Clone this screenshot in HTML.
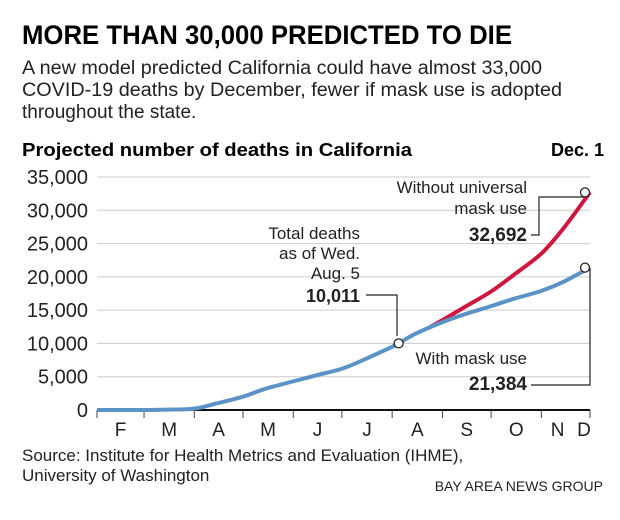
<!DOCTYPE html>
<html><head><meta charset="utf-8"><style>
body{margin:0;background:#fff}
svg{display:block;font-family:"Liberation Sans",sans-serif}
</style></head><body>
<svg width="620" height="520" viewBox="0 0 620 520" id="chart">
<text x="22" y="44" font-size="27" font-weight="bold" textLength="490" lengthAdjust="spacingAndGlyphs">MORE THAN 30,000 PREDICTED TO DIE</text>
<g font-size="19" fill="#222">
<text x="22" y="74" textLength="520" lengthAdjust="spacingAndGlyphs">A new model predicted California could have almost 33,000</text>
<text x="22" y="96" textLength="540" lengthAdjust="spacingAndGlyphs">COVID-19 deaths by December, fewer if mask use is adopted</text>
<text x="22" y="118">throughout the state.</text>
</g>
<text x="22" y="156" font-size="18" font-weight="bold" textLength="390" lengthAdjust="spacingAndGlyphs">Projected number of deaths in California</text>
<text x="604" y="156" font-size="18" font-weight="bold" text-anchor="end">Dec. 1</text>
<g id="grid"></g><g id="xaxis"></g><g id="lines"></g>
<g font-size="17" fill="#222">
<text x="360" y="239" text-anchor="end">Total deaths</text>
<text x="360" y="259" text-anchor="end">as of  Wed.</text>
<text x="360" y="279" text-anchor="end">Aug. 5</text>
<text x="360" y="302" text-anchor="end" font-weight="bold" font-size="18">10,011</text>
<polyline points="366,295 397,295 397,336" fill="none" stroke="#222" stroke-width="1.2"/>
<text x="527" y="193" text-anchor="end">Without universal</text>
<text x="527" y="214" text-anchor="end">mask use</text>
<text x="527" y="241" text-anchor="end" font-weight="bold" font-size="19">32,692</text>
<polyline points="531,235 539,235 539,197 584,197" fill="none" stroke="#222" stroke-width="1.2"/>
<text x="527" y="364" text-anchor="end">With mask use</text>
<text x="527" y="390" text-anchor="end" font-weight="bold" font-size="19">21,384</text>
<polyline points="531,385 590,385 590,268" fill="none" stroke="#222" stroke-width="1.2"/>
</g>
<g id="dots"></g>
<g font-size="17" fill="#222">
<text x="22" y="461">Source: Institute for Health Metrics and Evaluation (IHME),</text>
<text x="22" y="481">University of Washington</text>
</g>
<text x="603" y="491" font-size="14" text-anchor="end" fill="#222">BAY AREA NEWS GROUP</text>
</svg>
<script>
const yTicks=[0,5000,10000,15000,20000,25000,30000,35000];
const monthLabels=["F","M","A","M","J","J","A","S","O","N","D"];
const monthDays=[0,29,60,90,121,151,182,213,243,274,304];
const baseDays=[0,29,43,60,74,90,104,121,135,151,165,182,186,196,213,227,243,257,274,288,304];
const baseVals=[0,0,50,200,1000,2000,3200,4300,5200,6200,7600,9500,10011,11400,13200,14400,15600,16700,17900,19300,21384];
const redDays=[205,213,227,243,257,274,288,304];
const redVals=[12400,13500,15500,17800,20300,23500,27400,32692];
const NS="http://www.w3.org/2000/svg";
const X0=97,X1=590,Y0=410,Y1=177;
const xs=d=>X0+(X1-X0)*d/304, ys=v=>Y0-(Y0-Y1)*v/35000;
function mk(t,a,p){const e=document.createElementNS(NS,t);for(const k in a)e.setAttribute(k,a[k]);p.appendChild(e);return e;}
function smooth(ds,vs){
 const P=ds.map((d,i)=>[xs(d),ys(vs[i])]);
 let s='M'+P[0][0]+','+P[0][1];
 for(let i=0;i<P.length-1;i++){
  const p0=P[i-1]||P[i],p1=P[i],p2=P[i+1],p3=P[i+2]||p2;
  const c1=[p1[0]+(p2[0]-p0[0])/6,p1[1]+(p2[1]-p0[1])/6],c2=[p2[0]-(p3[0]-p1[0])/6,p2[1]-(p3[1]-p1[1])/6];
  s+=' C'+c1+' '+c2+' '+p2;
 }
 return s;
}
const grid=document.getElementById('grid');
yTicks.forEach(v=>{
 if(v>0){const l=mk('line',{x1:X0,x2:X1,y1:ys(v),y2:ys(v),stroke:'#ccc','stroke-width':1},grid);
 
 }
 const t=mk('text',{x:88,y:ys(v)+7,'font-size':20,'text-anchor':'end',fill:'#222'},grid);t.textContent=v.toLocaleString('en-US');
 
 
});
const xa=document.getElementById('xaxis');
const ax=mk('line',{x1:X0,x2:X1,y1:Y0,y2:Y0,stroke:'#111','stroke-width':2},xa);


monthDays.forEach((d,i)=>{
 const tk=mk('line',{x1:xs(d),x2:xs(d),y1:Y0,y2:Y0+8,stroke:'#444','stroke-width':1},xa);
 
 
 let mid=i<monthDays.length-1?(xs(d)+xs(monthDays[i+1]))/2:xs(d)-6;
 if(i===monthDays.length-2) mid-=8;
 const t=mk('text',{x:mid,y:Y0+26,'font-size':19,'text-anchor':'middle',fill:'#222'},xa);t.textContent=monthLabels[i];
 
 
});
const L=document.getElementById('lines');
const red=mk('path',{d:smooth(redDays,redVals),fill:'none',stroke:'#d0163f','stroke-width':4,'stroke-linejoin':'round'},L);


const blue=mk('path',{d:smooth(baseDays,baseVals),fill:'none',stroke:'#5b93c7','stroke-width':4,'stroke-linejoin':'round'},L);


const D=document.getElementById('dots');
[[186,10011],[304,redVals[redVals.length-1]],[304,baseVals[baseVals.length-1]]].forEach(p=>{
 const c=mk('circle',{cx:xs(p[0])-(p[0]===304?5:0),cy:ys(p[1]),r:4.5,fill:'#fff',stroke:'#222','stroke-width':1.3},D);
 
 
});
</script>
</body></html>
